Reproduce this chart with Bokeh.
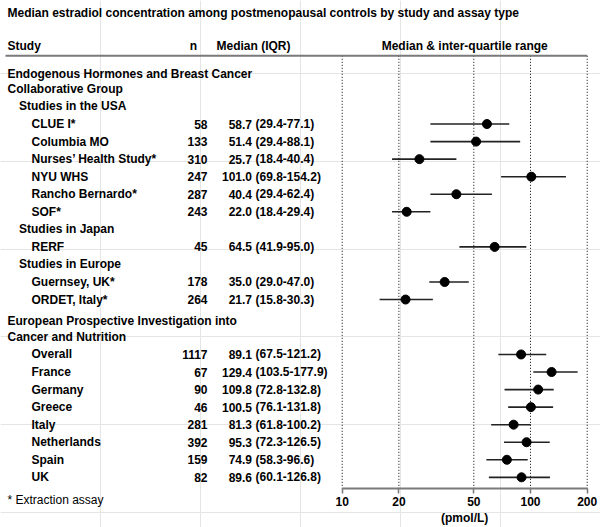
import math
from bokeh.plotting import figure
from bokeh.models import (Range1d, LogScale, LogAxis, FixedTicker,
                          NumeralTickFormatter, ColumnDataSource)
from bokeh.core.properties import value
from bokeh.embed import file_html
from bokeh.resources import INLINE

# ---------------- data ----------------
title = "Median estradiol concentration among postmenopausal controls by study and assay type"
header_study = "Study"
header_n = "n"
header_median = "Median (IQR)"
header_plot = "Median & inter-quartile range"
axis_title = "(pmol/L)"
footnote = "* Extraction assay"

studies = ["CLUE I*", "Columbia MO", "Nurses\u2019 Health Study*", "NYU WHS",
           "Rancho Bernardo*", "SOF*", "RERF", "Guernsey, UK*", "ORDET, Italy*",
           "Overall", "France", "Germany", "Greece", "Italy", "Netherlands",
           "Spain", "UK"]
n_values = [58, 133, 310, 247, 287, 243, 45, 178, 264,
            1117, 67, 90, 46, 281, 392, 159, 82]
medians = [58.7, 51.4, 25.7, 101.0, 40.4, 22.0, 64.5, 35.0, 21.7,
           89.1, 129.4, 109.8, 100.5, 81.3, 95.3, 74.9, 89.6]
q1_values = [29.4, 29.4, 18.4, 69.8, 29.4, 18.4, 41.9, 29.0, 15.8,
             67.5, 103.5, 72.8, 76.1, 61.8, 72.3, 58.3, 60.1]
q3_values = [77.1, 88.1, 40.4, 154.2, 62.4, 29.4, 95.0, 47.0, 30.3,
             121.2, 177.9, 132.8, 131.8, 100.2, 126.5, 96.6, 126.8]

ticks = [10, 20, 50, 100, 200]

# row structure (kind, text); "study" rows take values in order from the lists above
rows = [
    ("group", "Endogenous Hormones and Breast Cancer"),
    ("group2", "Collaborative Group"),
    ("region", "Studies in the USA"),
    ("study", "CLUE I*"), ("study", "Columbia MO"), ("study", "Nurses\u2019 Health Study*"),
    ("study", "NYU WHS"), ("study", "Rancho Bernardo*"), ("study", "SOF*"),
    ("region", "Studies in Japan"),
    ("study", "RERF"),
    ("region", "Studies in Europe"),
    ("study", "Guernsey, UK*"), ("study", "ORDET, Italy*"),
    ("group", "European Prospective Investigation into"),
    ("group2", "Cancer and Nutrition"),
    ("study", "Overall"), ("study", "France"), ("study", "Germany"), ("study", "Greece"),
    ("study", "Italy"), ("study", "Netherlands"), ("study", "Spain"), ("study", "UK"),
]

# ---------------- layout constants (canvas pixels) ----------------
W, H = 600, 527
PITCH = 17.55          # px per row
ROW0 = 73.0            # y of first row centre
AXIS_Y = 488.0         # y of axis line
PL, PR = 341.7, 586.7  # x of first / last tick
FONT = "Liberation Sans"
FS = "12px"
INDENT = {"group": 7, "group2": 7, "region": 18.5, "study": 31}


def u(canvas_y):
    return (canvas_y - ROW0) / PITCH


dec_px = (PR - PL) / math.log10(ticks[-1] / ticks[0])
log_lo = 10 ** (math.log10(ticks[0]) - PL / dec_px)
log_hi = 10 ** (math.log10(ticks[-1]) + (W - PR) / dec_px)

# row y positions
ys = []
y = 0.0
for i, (kind, _) in enumerate(rows):
    if i > 0:
        if kind == "group2":
            y += 0.88
        elif kind == "group":
            y += 1.25
        else:
            y += 1.0
    ys.append(y)

label_x = [INDENT[k] for k, _ in rows]
label_txt = [t for _, t in rows]
study_y = [ys[i] for i, (k, t) in enumerate(rows) if k == "study"]

p = figure(width=W, height=H, output_backend="svg", toolbar_location=None,
           x_range=Range1d(0, W), y_range=Range1d(u(H), u(0)),
           x_axis_location=None, y_axis_location=None, min_border=0)
p.outline_line_color = None
p.background_fill_color = "white"
p.border_fill_color = "white"
p.extra_x_ranges = {"log": Range1d(log_lo, log_hi)}
p.extra_x_scales = {"log": LogScale()}

TXT = dict(text_baseline="middle", text_font=value(FONT), text_font_style="bold",
           text_font_size=FS, text_color="black")

title_y = u(12)
header_y = u(45)
rule_y = u(55.3)
axis_y = u(AXIS_Y)

# vertical dotted reference lines
p.segment(x0=ticks, x1=ticks, y0=[rule_y] * len(ticks), y1=[axis_y] * len(ticks),
          x_range_name="log", line_color="black", line_width=1, line_dash="1 2")
# header rule
p.segment(x0=[5], x1=[PR], y0=[rule_y], y1=[rule_y],
          line_color="#7a7a7a", line_width=2)

# title
p.text(x=[7], y=[title_y], text=[title], **TXT)

# header texts
hdr = ColumnDataSource(dict(x=[7, 193, 216], y=[header_y] * 3,
                            t=[header_study, header_n, header_median],
                            a=["left", "center", "left"]))
p.text(x="x", y="y", text="t", text_align="a", source=hdr, **TXT)
p.text(x=[math.sqrt(ticks[0] * ticks[-1])], y=[header_y], text=[header_plot],
       x_range_name="log", text_align="center", **TXT)

# study labels
p.text(x=label_x, y=ys, text=label_txt, **TXT)

# n column
p.text(x=[207] * len(n_values), y=study_y, text=[str(v) for v in n_values],
       text_align="right", **TXT)

# median (IQR) column, aligned on the median
p.text(x=[251.5] * len(medians), y=study_y, text=[f"{m:.1f}" for m in medians],
       text_align="right", **TXT)
p.text(x=[255] * len(medians), y=study_y,
       text=[f"({a:.1f}-{b:.1f})" for a, b in zip(q1_values, q3_values)],
       text_align="left", **TXT)

# forest marks
p.segment(x0=q1_values, x1=q3_values, y0=study_y, y1=study_y, x_range_name="log",
          line_color="#222222", line_width=1.6)
p.scatter(x=medians, y=study_y, x_range_name="log", size=9,
          fill_color="black", line_color="black")

# axis (fixed inside the canvas, spanning only the tick range)
ax = LogAxis(x_range_name="log", ticker=FixedTicker(ticks=ticks),
             bounds=(ticks[0], ticks[-1]), formatter=NumeralTickFormatter(format="0"),
             fixed_location=axis_y)
ax.axis_line_color = "#7a7a7a"
ax.axis_line_width = 2
ax.major_tick_line_color = "#7a7a7a"
ax.major_tick_line_width = 1.5
ax.major_tick_out = 5
ax.major_tick_in = 0
ax.minor_tick_out = 0
ax.minor_tick_in = 0
ax.major_label_standoff = 3
ax.major_label_text_font = FONT
ax.major_label_text_font_style = "bold"
ax.major_label_text_font_size = FS
ax.major_label_text_color = "black"
p.add_layout(ax, "below")

# axis title, centred under the tick range
p.text(x=[math.sqrt(ticks[0] * ticks[-1])], y=[u(517)], text=[axis_title],
       x_range_name="log", text_align="center", **TXT)

# footnote
p.text(x=[7], y=[u(499)], text=[footnote], **dict(TXT, text_font_style="normal"))

open("out.html", "w").write(file_html(p, INLINE))
